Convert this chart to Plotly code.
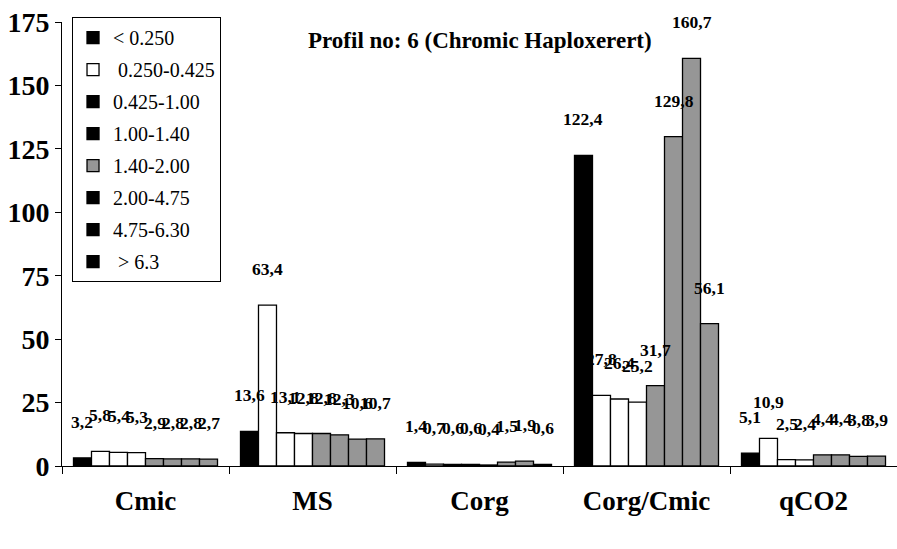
import plotly.graph_objects as go

categories = ["Cmic", "MS", "Corg", "Corg/Cmic", "qCO2"]
series_names = ["< 0.250", " 0.250-0.425", "0.425-1.00", "1.00-1.40",
                "1.40-2.00", "2.00-4.75", "4.75-6.30", " > 6.3"]
legend_colors = ["#000000", "#FFFFFF", "#000000", "#000000",
                 "#969696", "#000000", "#000000", "#000000"]
bar_colors = ["#000000", "#FFFFFF", "#FFFFFF", "#FFFFFF",
              "#969696", "#969696", "#969696", "#969696"]

# values[series][category]
s1 = [3.2, 13.6, 1.4, 122.4, 5.1]
s2 = [5.8, 63.4, 0.7, 27.8, 10.9]
s3 = [5.4, 13.1, 0.6, 26.4, 2.5]
s4 = [5.3, 12.8, 0.6, 25.2, 2.4]
s5 = [2.9, 12.8, 0.4, 31.7, 4.4]
s6 = [2.8, 12.3, 1.5, 129.8, 4.4]
s7 = [2.8, 10.6, 1.9, 160.7, 3.8]
s8 = [2.7, 10.7, 0.6, 56.1, 3.9]
series = [s1, s2, s3, s4, s5, s6, s7, s8]

y_ticks = [0, 25, 50, 75, 100, 125, 150, 175]
title_text = "Profil no: 6 (Chromic Haploxerert)"

FONT = "Liberation Serif, Times New Roman, serif"
n = len(series)
w = 0.1078

fig = go.Figure()
annotations = []
for i, vals in enumerate(series):
    xs = [j + (i - (n - 1) / 2) * w for j in range(len(categories))]
    fig.add_trace(go.Bar(
        x=xs, y=vals, width=w,
        marker=dict(color=bar_colors[i], line=dict(color="#000000", width=1.3)),
        showlegend=False, hoverinfo="y",
    ))
    for x, v in zip(xs, vals):
        annotations.append(dict(
            x=x, y=v, xref="x", yref="y",
            text="<b>" + f"{v:.1f}".replace(".", ",") + "</b>",
            showarrow=False, yshift=36, yanchor="middle", xanchor="center",
            font=dict(family=FONT, size=17.5, color="#000000"),
        ))
    # legend entry (legend swatch colours as in original)
    fig.add_trace(go.Bar(
        x=[None], y=[None], name=series_names[i], legendgroup=f"g{i}",
        marker=dict(color=legend_colors[i], line=dict(color="#000000", width=1.3)),
        showlegend=True,
    ))

annotations.append(dict(
    x=0.5006, y=0.959, xref="paper", yref="paper", text=f"<b>{title_text}</b>",
    showarrow=False, xanchor="center", yanchor="middle",
    font=dict(family=FONT, size=23, color="#000000"),
))

fig.update_layout(
    width=897, height=549,
    margin=dict(l=62, r=0, t=22, b=83),
    paper_bgcolor="white", plot_bgcolor="white",
    barmode="overlay",
    annotations=annotations,
    font=dict(family=FONT, color="#000000"),
    legend=dict(
        x=0.012, y=1.011, xanchor="left", yanchor="top",
        bordercolor="#000000", borderwidth=1, bgcolor="white",
        font=dict(family=FONT, size=20, color="#000000"),
        tracegroupgap=3, itemwidth=30, maxheight=500,
    ),
    xaxis=dict(
        range=[-0.5, 4.5], tickvals=list(range(len(categories))),
        ticktext=[f"<b>{c}</b>" for c in categories],
        ticks="", showgrid=False, zeroline=False,
        showline=True, linecolor="#000000", linewidth=1,
        tickfont=dict(family=FONT, size=27, color="#000000"),
        ticklabelstandoff=11,
        minor=dict(tick0=-0.5, dtick=1, ticks="outside", ticklen=7,
                   tickcolor="#000000", tickwidth=1, showgrid=False),
    ),
    yaxis=dict(
        range=[0, 175], tickvals=y_ticks,
        ticktext=[f"<b>{t}</b>" for t in y_ticks],
        ticks="outside", ticklen=6, tickcolor="#000000", tickwidth=1,
        showgrid=False, zeroline=False,
        showline=True, linecolor="#000000", linewidth=1,
        tickfont=dict(family=FONT, size=28, color="#000000"),
    ),
)

fig.write_html("out.html")
